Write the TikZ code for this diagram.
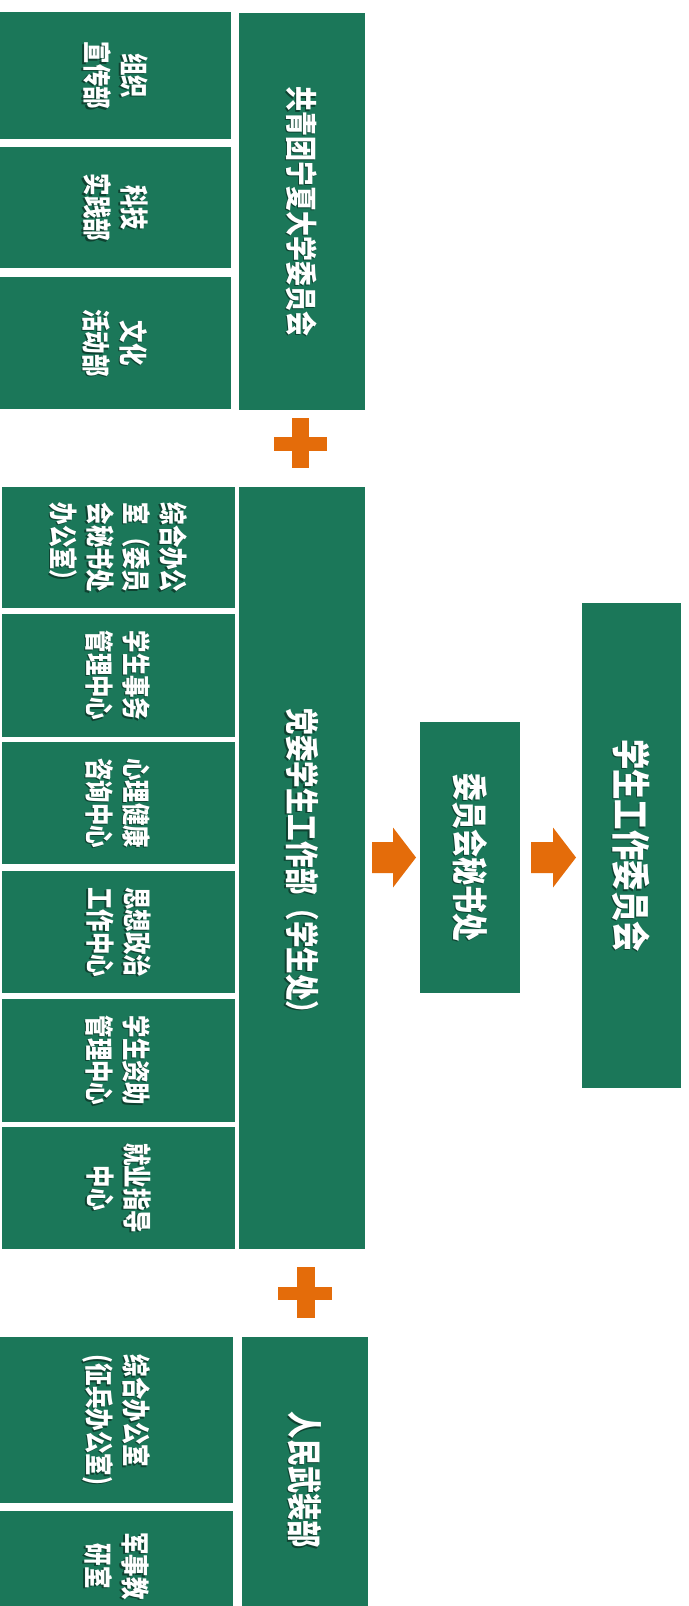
\documentclass[tikz,border=0pt]{standalone}
\usepackage{fontspec}
\newfontfamily\cjk{Noto Sans CJK SC}[FakeStretch=0.78]
\usetikzlibrary{calc}
\definecolor{grn}{HTML}{1B7759}
\definecolor{org}{HTML}{E46C0A}
\newcommand\fsz[2]{\fontsize{#1}{#2}\selectfont}
\tikzset{
  box/.style={fill=grn, draw=none, inner sep=0pt, outer sep=0pt, rectangle},
  lbl/.style={rotate=-90, text=white, inner sep=0pt, outer sep=0pt, align=center},
  shd/.style={text=black, opacity=0.45},
  small/.style={font={\cjk\bfseries\fsz{28.8}{37}}},
}
% name, anchor (no parens), options, text
\newcommand\tlab[4]{%
  \node[lbl,#3,shd] (#1s) at ([shift={(-1.3,1.3)}]#2) {#4};
  \node[lbl,#3] (#1) at (#2) {#4};}
\begin{document}
\begin{tikzpicture}[x=1pt,y=-1pt]
\useasboundingbox (0,0) rectangle (688,1606);
\fill[white] (0,0) rectangle (688,1606);
\clip (0,0) rectangle (688,1606);

% group 1
\node[box, minimum width=126pt, minimum height=397pt] (gq) at (302,211.5) {};
\node[box, minimum width=231pt, minimum height=127pt] (s1) at (115.5,75.5) {};
\node[box, minimum width=231pt, minimum height=121pt] (s2) at (115.5,207.5) {};
\node[box, minimum width=231pt, minimum height=132pt] (s3) at (115.5,343) {};
\tlab{gqt}{gq.center}{font={\cjk\bfseries\fsz{32}{38}}}{共青团宁夏大学委员会}
\tlab{s1t}{s1.center}{small}{组织\\宣传部}
\tlab{s2t}{s2.center}{small}{科技\\实践部}
\tlab{s3t}{s3.center}{small}{文化\\活动部}

% plus 1
\fill[org] (274,437) rectangle (327,451);
\fill[org] (292,418) rectangle (309,468);

% group 2
\node[box, minimum width=126pt, minimum height=762pt] (dw) at (302,868) {};
\node[box, minimum width=233pt, minimum height=121pt] (t1) at (118.5,547.5) {};
\node[box, minimum width=233pt, minimum height=123pt] (t2) at (118.5,675.5) {};
\node[box, minimum width=233pt, minimum height=122pt] (t3) at (118.5,803) {};
\node[box, minimum width=233pt, minimum height=122pt] (t4) at (118.5,932) {};
\node[box, minimum width=233pt, minimum height=123pt] (t5) at (118.5,1060.5) {};
\node[box, minimum width=233pt, minimum height=122pt] (t6) at (118.5,1188) {};
\tlab{dwt}{dw.center}{font={\cjk\bfseries\fsz{34}{40}}}{党委学生工作部（学生处）}
\tlab{t1t}{t1.center}{font={\cjk\bfseries\fsz{28.8}{36.5}}}{综合办公\\室（委员\\会秘书处\\办公室）}
\tlab{t2t}{t2.center}{small}{学生事务\\管理中心}
\tlab{t3t}{t3.center}{small}{心理健康\\咨询中心}
\tlab{t4t}{t4.center}{small}{思想政治\\工作中心}
\tlab{t5t}{t5.center}{small}{学生资助\\管理中心}
\tlab{t6t}{t6.center}{small}{就业指导\\中心}

% plus 2
\fill[org] (278,1287) rectangle (332,1300);
\fill[org] (297,1267) rectangle (315,1318);

% group 3
\node[box, minimum width=126pt, minimum height=286pt] (rm) at (305,1480) {};
\node[box, minimum width=233pt, minimum height=166pt] (u1) at (116.5,1420) {};
\node[box, minimum width=233pt, minimum height=110pt] (u2) at (116.5,1566) {};
\tlab{rmt}{rm.center}{font={\cjk\bfseries\fsz{35}{40}}}{人民武装部}
\tlab{u1t}{u1.center}{small, align=left}{综合办公室\\(征兵办公室)}
\tlab{u2t}{u2.center}{small}{军事教\\研室}

% right side
\node[box, minimum width=100pt, minimum height=271pt] (ws) at (470,857.5) {};
\node[box, minimum width=99pt, minimum height=485pt] (xw) at (631.5,845.5) {};
\tlab{wst}{ws.center}{font={\cjk\bfseries\fsz{36}{40}}}{委员会秘书处}
\tlab{xwt}{xw.center}{font={\cjk\bfseries\fsz{39}{44}}}{学生工作委员会}

% block arrows
\path (dw.east |- ws.west) ++(7,0) coordinate (a1s);
\path (ws.west) ++(-4,0) coordinate (a1e);
\path (ws.east) ++(11,0) coordinate (a2s);
\path (xw.west |- ws.east) ++(-6,0) coordinate (a2e);
\fill[org] ($(a1s)+(0,-15.5)$) -- ($(a1e)+(-23,-15.5)$) -- ($(a1e)+(-23,-30)$) -- (a1e)
  -- ($(a1e)+(-23,30)$) -- ($(a1e)+(-23,15.5)$) -- ($(a1s)+(0,15.5)$) -- cycle;
\fill[org] ($(a2s)+(0,-15.5)$) -- ($(a2e)+(-23,-15.5)$) -- ($(a2e)+(-23,-30)$) -- (a2e)
  -- ($(a2e)+(-23,30)$) -- ($(a2e)+(-23,15.5)$) -- ($(a2s)+(0,15.5)$) -- cycle;
\end{tikzpicture}
\end{document}
